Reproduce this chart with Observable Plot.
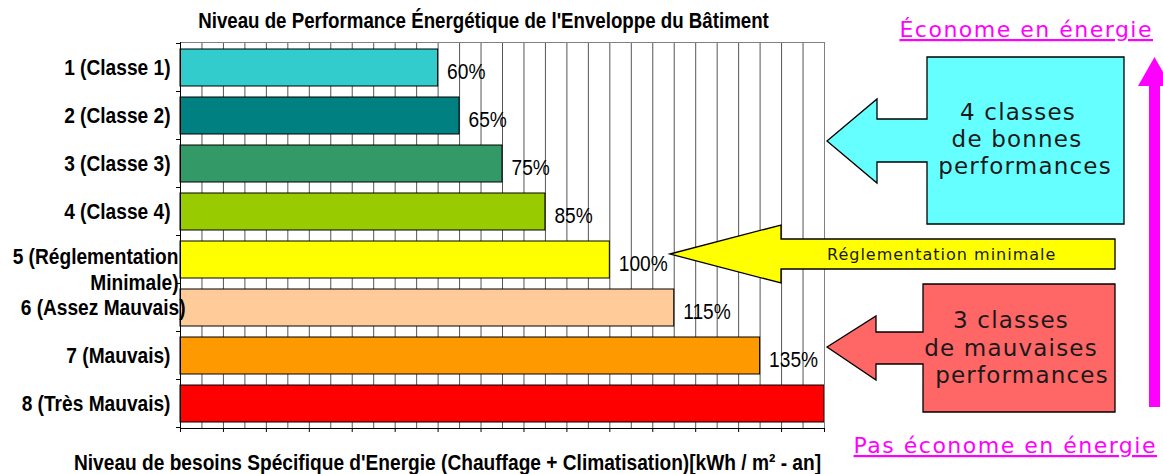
<!DOCTYPE html>
<html>
<head>
<meta charset="utf-8">
<script src="https://cdn.jsdelivr.net/npm/d3@7"></script>
<script src="https://cdn.jsdelivr.net/npm/@observablehq/plot@0.6"></script>
<style>
  html, body { margin: 0; padding: 0; background: white; }
</style>
</head>
<body>
<div id="chart"></div>
<script>
const categories = ["1 (Classe 1)", "2 (Classe 2)", "3 (Classe 3)", "4 (Classe 4)",
  "5 (Réglementation\nMinimale)", "6 (Assez Mauvais)", "7 (Mauvais)", "8 (Très Mauvais)"];
const values = [60, 65, 75, 85, 100, 115, 135, 150];
const valueLabels = ["60%", "65%", "75%", "85%", "100%", "115%", "135%", ""];
const colors = ["#33CCCC", "#008080", "#339966", "#99CC00", "#FFFF00", "#FFCC99", "#FF9900", "#FF0000"];
const gridTicks = [0,5,10,15,20,25,30,35,40,45,50,55,60,65,70,75,80,85,90,95,100,105,110,115,120,125,130,135,140,145,150];
const majorTicks = [0,10,20,30,40,50,60,70,80,90,100,110,120,130,140,150];
const title = "Niveau de Performance Énergétique de l'Enveloppe du Bâtiment";
const xLabel = "Niveau de besoins Spécifique d'Energie (Chauffage + Climatisation)[kWh / m² - an]";

const data = categories.map((c, i) => ({cat: c, value: values[i], label: valueLabels[i]}));
const sans = "'Liberation Sans', Arial, sans-serif";
const narrowScale = 0.87;
const multiLine = categories.filter(c => c.includes("\n"));
const overflowing = ["6 (Assez Mauvais)"];
const regular = categories.filter(c => !multiLine.includes(c) && !overflowing.includes(c));

const yAxisStyle = {tickSize: 0, fontSize: 22, fontWeight: "bold", label: null};

const plot = Plot.plot({
  width: 1163,
  height: 474,
  marginLeft: 180,
  marginRight: 339,
  marginTop: 42,
  marginBottom: 46,
  style: {fontFamily: sans, color: "black", background: "white", overflow: "visible"},
  x: {domain: [0, 150]},
  y: {domain: categories, paddingInner: 0.232, paddingOuter: 0.116},
  color: {domain: categories, range: colors},
  marks: [
    Plot.gridX(gridTicks, {stroke: "#555", strokeOpacity: 1}),
    Plot.barX(data, {x: "value", y: "cat", fill: "cat", stroke: "black", strokeWidth: 1}),
    Plot.text(data, {x: "value", y: "cat", text: "label", textAnchor: "start", dx: 9, dy: 4,
      fontSize: 22, fontFamily: sans, fill: "black"}),
    Plot.frame({stroke: "#808080"}),
    Plot.ruleX([0], {stroke: "black"}),
    Plot.frame({anchor: "bottom", stroke: "black"}),
    Plot.axisX({ticks: majorTicks, tickFormat: () => "", tickSize: 4, label: null}),
    Plot.axisY(regular, {...yAxisStyle, tickPadding: 10}),
    Plot.axisY(overflowing, {...yAxisStyle, tickPadding: -5}),
    Plot.axisY(multiLine, {...yAxisStyle, tickPadding: 2, lineHeight: 1.18, dy: 9}),
    Plot.text([title], {text: d => d, frameAnchor: "top", lineAnchor: "middle", dy: -21, dx: -19,
      fontSize: 21.5, fontWeight: "bold", fontFamily: sans, fill: "black"}),
    Plot.text([xLabel], {text: d => d, frameAnchor: "bottom", lineAnchor: "middle", dy: 34, dx: -55,
      fontSize: 22, fontWeight: "bold", fontFamily: sans, fill: "black"})
  ]
});

document.getElementById("chart").appendChild(plot);
const svg = d3.select(plot);

// condense Plot's texts horizontally (narrow face, like Arial Narrow)
svg.selectAll("text").each(function() {
  let t = this.getAttribute("transform");
  if (!t) {
    const x = this.getAttribute("x") || 0, y = this.getAttribute("y") || 0;
    this.removeAttribute("x"); this.removeAttribute("y");
    t = `translate(${x},${y})`;
  }
  this.setAttribute("transform", t + ` scale(${narrowScale},1)`);
});

// band boundary ticks on the y axis
const ys = plot.scale("y");
const xs = plot.scale("x");
const gap = (ys.step - ys.bandwidth) / 2;
const bounds = categories.map(c => ys.apply(c) - gap);
bounds.push(ys.apply(categories[categories.length - 1]) + ys.bandwidth + gap);
const x0 = xs.apply(0);
svg.append("g").selectAll("line").data(bounds).join("line")
  .attr("x1", x0 - 4).attr("x2", x0).attr("y1", d => d).attr("y2", d => d)
  .attr("stroke", "black");

// annotations
const ann = svg.append("g");
const uiFont = "'DejaVu Sans', Verdana, sans-serif";
ann.append("path")
  .attr("d", "M827,141 L877,99 L877,119 L927,119 L927,57 L1124,57 L1124,224 L927,224 L927,162 L877,162 L877,183 Z")
  .attr("fill", "#66FFFF").attr("stroke", "black").attr("stroke-width", 1.3);
ann.append("path")
  .attr("d", "M670,254 L781,225 L781,239 L1115,239 L1115,269 L781,269 L781,283 Z")
  .attr("fill", "#FFFF00").attr("stroke", "black").attr("stroke-width", 1.3);
ann.append("path")
  .attr("d", "M827,347 L876,316 L876,332 L923,332 L923,284 L1115,284 L1115,412 L923,412 L923,364 L876,364 L876,380 Z")
  .attr("fill", "#FF6666").attr("stroke", "black").attr("stroke-width", 1.3);
ann.append("rect").attr("x", 1149).attr("y", 84).attr("width", 11).attr("height", 323).attr("fill", "#FF00FF");
ann.append("path").attr("d", "M1138,86 L1154.5,57 L1171,86 Z").attr("fill", "#FF00FF");

function txt(s, x, y, size, anchor, fill, ls) {
  return ann.append("text").attr("x", x).attr("y", y).attr("font-size", size)
    .attr("font-family", uiFont).attr("text-anchor", anchor).attr("fill", fill)
    .attr("letter-spacing", ls).text(s);
}
txt("Économe en énergie", 1153, 37, 22, "end", "#FF00FF", 1.5).style("text-decoration", "underline");
txt("Pas économe en énergie", 1157, 453, 22, "end", "#FF00FF", 1.5).style("text-decoration", "underline");
txt("4 classes", 1018, 120, 23, "middle", "#1a1a1a", 1.2);
txt("de bonnes", 1017, 147, 23, "middle", "#1a1a1a", 1.2);
txt("performances", 1025, 174, 23, "middle", "#1a1a1a", 1.2);
txt("Réglementation minimale", 827, 260, 16, "start", "#1a1a1a", 1.0);
txt("3 classes", 1011, 328, 23, "middle", "#1a1a1a", 1.2);
txt("de mauvaises", 1011, 356, 23, "middle", "#1a1a1a", 1.2);
txt("performances", 1022, 383, 23, "middle", "#1a1a1a", 1.2);
</script>
</body>
</html>
